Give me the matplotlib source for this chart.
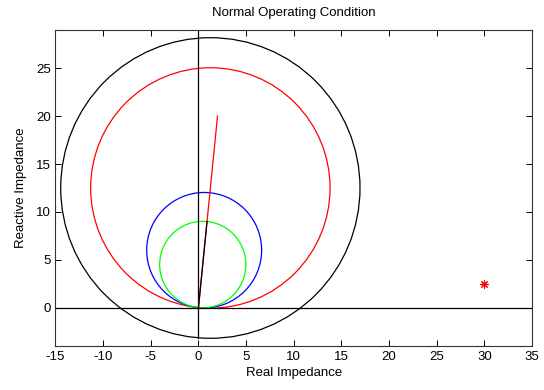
import matplotlib.pyplot as plt
from matplotlib.patches import Circle

plt.rcParams['font.family'] = ['Liberation Sans', 'DejaVu Sans']
plt.rcParams['axes.unicode_minus'] = False

# mho circles: (centre R, centre X, radius, colour)
circ_cx = [1.25, 1.25, 0.6, 0.45]
circ_cy = [12.5, 12.5, 6.0, 4.5]
circ_r = [15.7, 12.56, 6.03, 4.52]
circ_col = ['black', 'red', 'blue', '#00ff00']

# line impedance vectors from origin
line_r = [2.0, 0.9]
line_x = [20.0, 9.0]
line_col = ['red', 'black']

# measured operating point
op_r = [30]
op_x = [2.5]

fig = plt.figure(figsize=(5.44, 3.9), dpi=100)
ax = fig.add_axes([0.102, 0.113, 0.876, 0.810])

for cx, cy, r, c in zip(circ_cx, circ_cy, circ_r, circ_col):
    ax.add_patch(Circle((cx, cy), r, fill=False, edgecolor=c, lw=0.9))

# axes through origin
ax.plot([-15, 35], [0, 0], color='black', lw=0.9)
ax.plot([0, 0], [-3.2, 30], color='black', lw=0.9)

for lr, lx, c in zip(line_r, line_x, line_col):
    ax.plot([0, lr], [0, lx], color=c, lw=0.9)

ax.plot(op_r, op_x, marker=(8, 2, 0), color='red', ms=6, mew=0.8, ls='none')

ax.set_xlim(-15, 35)
ax.set_ylim(-4, 29)
ax.set_xticks(range(-15, 36, 5))
ax.set_yticks(range(0, 26, 5))
ax.tick_params(direction='in', top=True, right=True, labelsize=9.5, length=4, width=0.7)
for s in ax.spines.values():
    s.set_linewidth(0.8)
    s.set_color('#333333')

ax.set_title('Normal Operating Condition', fontsize=9.5, pad=10)
ax.set_xlabel('Real Impedance', fontsize=9.5, labelpad=3)
ax.set_ylabel('Reactive Impedance', fontsize=9.5, labelpad=6)

fig.savefig('out.png', dpi=100)
